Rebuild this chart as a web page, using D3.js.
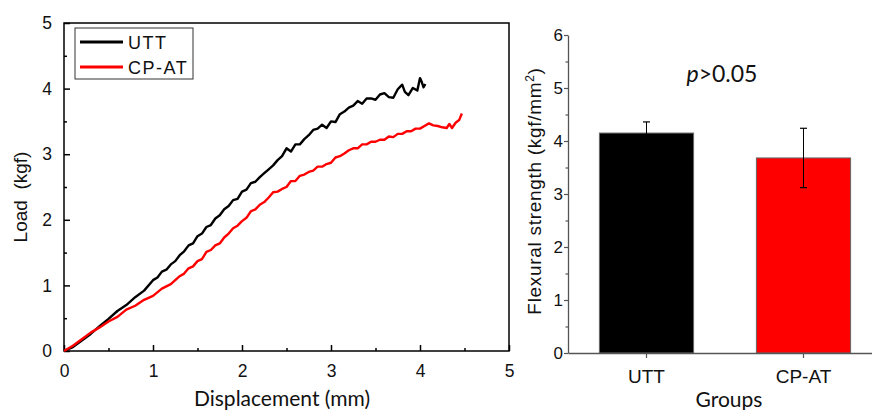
<!DOCTYPE html>
<html lang="en">
<head>
<meta charset="UTF-8">
<title>Load-displacement and flexural strength</title>
<script src="https://d3js.org/d3.v7.min.js"></script>
<style>
  body { margin: 0; background: #fff; }
  svg { display: block; }
  .tick text { font-family: "Liberation Sans", Arial, sans-serif; }
</style>
</head>
<body>
<div id="chart"></div>
<script>
// load-displacement curves, [displacement mm, load kgf]
const uttCurve = [
  [0,0],[0.1,0.06],[0.2,0.16],[0.3,0.26],[0.4,0.38],[0.5,0.49],[0.6,0.61],[0.7,0.70],
  [0.8,0.82],[0.9,0.92],[1.0,1.08],[1.05,1.12],[1.1,1.21],[1.15,1.24],[1.2,1.32],[1.25,1.37],
  [1.3,1.46],[1.35,1.52],[1.4,1.61],[1.45,1.64],[1.5,1.75],[1.55,1.79],[1.6,1.89],[1.65,1.92],
  [1.7,2.02],[1.75,2.07],[1.8,2.16],[1.85,2.21],[1.9,2.30],[1.95,2.32],[2.0,2.43],[2.05,2.46],
  [2.1,2.56],[2.15,2.58],[2.2,2.65],[2.25,2.71],[2.3,2.77],[2.35,2.83],[2.4,2.91],[2.45,2.97],
  [2.5,3.09],[2.55,3.04],[2.6,3.15],[2.65,3.15],[2.7,3.23],[2.75,3.29],[2.8,3.37],[2.85,3.39],
  [2.9,3.45],[2.95,3.40],[3.0,3.50],[3.05,3.49],[3.1,3.61],[3.15,3.65],[3.2,3.71],[3.25,3.74],
  [3.3,3.81],[3.35,3.77],[3.4,3.85],[3.45,3.85],[3.5,3.83],[3.55,3.91],[3.6,3.93],[3.65,3.87],
  [3.7,3.86],[3.75,3.99],[3.8,4.06],[3.83,3.95],[3.87,3.90],[3.92,4.01],[3.97,3.97],[4.0,4.16],
  [4.02,4.10],[4.04,4.02],[4.06,4.07]
];
const cpatCurve = [
  [0,0],[0.1,0.08],[0.2,0.18],[0.3,0.28],[0.4,0.36],[0.5,0.45],[0.6,0.52],[0.7,0.63],
  [0.8,0.69],[0.9,0.78],[1.0,0.84],[1.1,0.95],[1.2,1.02],[1.3,1.14],[1.35,1.18],[1.4,1.26],
  [1.45,1.29],[1.5,1.37],[1.55,1.40],[1.6,1.51],[1.65,1.54],[1.7,1.61],[1.75,1.64],[1.8,1.73],
  [1.85,1.79],[1.9,1.87],[1.95,1.91],[2.0,1.98],[2.05,2.03],[2.1,2.13],[2.15,2.16],[2.2,2.23],
  [2.25,2.27],[2.3,2.34],[2.35,2.42],[2.4,2.43],[2.45,2.47],[2.5,2.50],[2.55,2.59],[2.6,2.59],
  [2.65,2.67],[2.7,2.69],[2.75,2.73],[2.8,2.75],[2.85,2.81],[2.9,2.81],[2.95,2.85],[3.0,2.87],
  [3.05,2.95],[3.1,2.97],[3.15,3.01],[3.2,3.06],[3.25,3.09],[3.3,3.09],[3.35,3.15],[3.4,3.15],
  [3.45,3.19],[3.5,3.19],[3.55,3.22],[3.6,3.22],[3.65,3.27],[3.7,3.26],[3.75,3.31],[3.8,3.31],
  [3.85,3.35],[3.9,3.35],[3.95,3.39],[4.0,3.39],[4.05,3.43],[4.1,3.47],[4.15,3.44],[4.2,3.43],
  [4.25,3.41],[4.3,3.40],[4.33,3.46],[4.36,3.40],[4.4,3.48],[4.44,3.52],[4.47,3.62]
];
const seriesNames = ["UTT", "CP-AT"];
const seriesColors = ["#000000", "#ff0000"];

// flexural strength bars
const groups = ["UTT", "CP-AT"];
const strengthMean = [4.15, 3.68];
const strengthSD = [0.21, 0.56];

const xTicksLeft = [0, 1, 2, 3, 4, 5];
const yTicksLeft = [0, 1, 2, 3, 4, 5];
const yTicksRight = [0, 1, 2, 3, 4, 5, 6];

const W = 872, H = 410;
const svg = d3.select("#chart").append("svg")
  .attr("width", W).attr("height", H);

// ---------- left panel ----------
const x = d3.scaleLinear().domain([0, 5]).range([64, 509]);
const y = d3.scaleLinear().domain([0, 5]).range([351, 23]);

const left = svg.append("g");

// frame
left.append("rect")
  .attr("x", x(0)).attr("y", y(5))
  .attr("width", x(5) - x(0)).attr("height", y(0) - y(5))
  .attr("fill", "none").attr("stroke", "#000").attr("stroke-width", 1.5);

// minor ticks (inward)
const xAxisMinor = left.append("g")
  .attr("transform", `translate(0,${y(0)})`)
  .call(d3.axisBottom(x).tickValues([0.5, 1.5, 2.5, 3.5, 4.5]).tickSize(-3).tickFormat(""));
const yAxisMinor = left.append("g")
  .attr("transform", `translate(${x(0)},0)`)
  .call(d3.axisLeft(y).tickValues([0.5, 1.5, 2.5, 3.5, 4.5]).tickSize(-3).tickFormat(""));

const xAxis = left.append("g")
  .attr("transform", `translate(0,${y(0)})`)
  .call(d3.axisBottom(x).tickValues(xTicksLeft).tickSize(-6).tickPadding(14).tickFormat(d3.format("d")));
const yAxis = left.append("g")
  .attr("transform", `translate(${x(0)},0)`)
  .call(d3.axisLeft(y).tickValues(yTicksLeft).tickSize(-6).tickPadding(12).tickFormat(d3.format("d")));

[xAxis, yAxis, xAxisMinor, yAxisMinor].forEach(g => {
  g.select(".domain").remove();
  g.selectAll(".tick line").attr("stroke", "#000").attr("stroke-width", 1.5);
  g.selectAll(".tick text").attr("font-size", 17.5).attr("fill", "#111");
});

const line = d3.line().x(d => x(d[0])).y(d => y(d[1]));
[uttCurve, cpatCurve].forEach((c, i) => {
  left.append("path")
    .datum(c)
    .attr("d", line)
    .attr("fill", "none")
    .attr("stroke", seriesColors[i])
    .attr("stroke-width", 2.4)
    .attr("stroke-linejoin", "round");
});

// legend
const legend = left.append("g");
legend.append("rect")
  .attr("x", 75).attr("y", 28).attr("width", 118).attr("height", 51)
  .attr("fill", "#fff").attr("stroke", "#333").attr("stroke-width", 1);
seriesNames.forEach((name, i) => {
  const ly = 42 + i * 25;
  legend.append("line")
    .attr("x1", 80).attr("x2", 123).attr("y1", ly).attr("y2", ly)
    .attr("stroke", seriesColors[i]).attr("stroke-width", 3);
  legend.append("text")
    .attr("x", 128).attr("y", ly + 7)
    .attr("font-family", "Liberation Sans, Arial, sans-serif")
    .attr("font-size", 18).attr("letter-spacing", 1.5)
    .attr("fill", "#111")
    .text(name);
});

left.append("text")
  .attr("transform", `translate(27,197) rotate(-90)`)
  .attr("text-anchor", "middle")
  .attr("font-family", "Liberation Sans, Arial, sans-serif")
  .attr("font-size", 19).attr("fill", "#111")
  .attr("xml:space", "preserve")
  .text("Load  (kgf)");

left.append("text")
  .attr("x", 282).attr("y", 406)
  .attr("text-anchor", "middle")
  .attr("font-family", "Lato, sans-serif")
  .attr("font-size", 21).attr("fill", "#111")
  .text("Displacement (mm)");

// ---------- right panel ----------
const xb = d3.scaleBand().domain(groups).range([568, 882])
  .paddingInner(0.4).paddingOuter(0.2);
const yb = d3.scaleLinear().domain([0, 6]).range([353, 35]);

const right = svg.append("g");

right.selectAll("rect.bar")
  .data(groups)
  .join("rect")
  .attr("class", "bar")
  .attr("x", d => xb(d))
  .attr("width", xb.bandwidth())
  .attr("y", (d, i) => yb(strengthMean[i]))
  .attr("height", (d, i) => yb(0) - yb(strengthMean[i]))
  .attr("fill", (d, i) => seriesColors[i])
  .attr("stroke", "#666").attr("stroke-width", 1);

// error bars
const err = right.selectAll("g.err")
  .data(groups)
  .join("g")
  .attr("class", "err")
  .attr("transform", d => `translate(${xb(d) + xb.bandwidth() / 2},0)`);
err.append("line")
  .attr("y1", (d, i) => yb(strengthMean[i] - strengthSD[i]))
  .attr("y2", (d, i) => yb(strengthMean[i] + strengthSD[i]))
  .attr("stroke", "#000").attr("stroke-width", 1);
[1, -1].forEach(s => {
  err.append("line")
    .attr("x1", -3.5).attr("x2", 3.5)
    .attr("y1", (d, i) => yb(strengthMean[i] + s * strengthSD[i]))
    .attr("y2", (d, i) => yb(strengthMean[i] + s * strengthSD[i]))
    .attr("stroke", "#000").attr("stroke-width", 1.2);
});

const ybMinor = right.append("g")
  .attr("transform", `translate(${568},0)`)
  .call(d3.axisLeft(yb).tickValues([0.5, 1.5, 2.5, 3.5, 4.5, 5.5]).tickSize(2.5).tickFormat(""));
ybMinor.select(".domain").remove();

const ybAxis = right.append("g")
  .attr("transform", `translate(${568},0)`)
  .call(d3.axisLeft(yb).tickValues(yTicksRight).tickSize(4).tickPadding(1).tickSizeOuter(0).tickFormat(d3.format("d")));
const xbAxis = right.append("g")
  .attr("transform", `translate(0,${yb(0)})`)
  .call(d3.axisBottom(xb).tickSize(5).tickSizeOuter(0).tickPadding(12));

[ybAxis, xbAxis, ybMinor].forEach(g => {
  g.selectAll(".domain").attr("stroke", "#555").attr("stroke-width", 1.3);
  g.selectAll(".tick line").attr("stroke", "#555").attr("stroke-width", 1.2);
  g.selectAll(".tick text").attr("fill", "#111");
});
ybAxis.selectAll(".tick text").attr("font-size", 17);
xbAxis.selectAll(".tick text").attr("font-size", 19);

right.append("text")
  .attr("transform", `translate(541,191) rotate(-90)`)
  .attr("text-anchor", "middle")
  .attr("font-family", "Liberation Sans, Arial, sans-serif")
  .attr("font-size", 19).attr("letter-spacing", 0.7).attr("fill", "#111")
  .call(t => {
    t.append("tspan").text("Flexural strength (kgf/mm");
    t.append("tspan").attr("dy", -7).attr("font-size", 12).text("2");
    t.append("tspan").attr("dy", 7).text(")");
  });

right.append("text")
  .attr("x", 729).attr("y", 407)
  .attr("text-anchor", "middle")
  .attr("font-family", "Lato, sans-serif")
  .attr("font-size", 21).attr("fill", "#111")
  .text("Groups");

right.append("text")
  .attr("x", 722).attr("y", 82)
  .attr("text-anchor", "middle")
  .attr("font-family", "Lato, sans-serif")
  .attr("font-size", 23).attr("fill", "#111")
  .call(t => {
    t.append("tspan").attr("font-style", "italic").text("p");
    t.append("tspan").text(">0.05");
  });
</script>
</body>
</html>
